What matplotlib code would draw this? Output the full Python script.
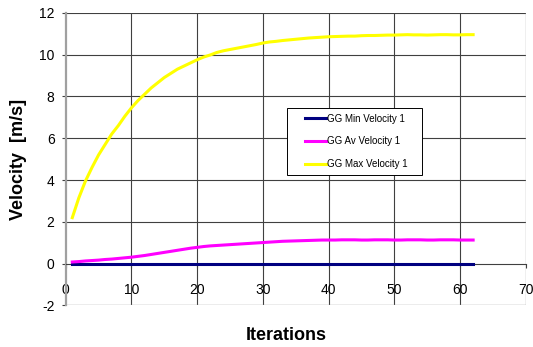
import matplotlib.pyplot as plt
from matplotlib.patches import Rectangle

plt.rcParams['font.family'] = ['Liberation Sans', 'DejaVu Sans']
plt.rcParams['axes.unicode_minus'] = False

iterations = list(range(1, 63))

min_velocity = [0.0, 0.0, 0.0, 0.0, 0.0, 0.0, 0.0, 0.0, 0.0, 0.0,
	0.0, 0.0, 0.0, 0.0, 0.0, 0.0, 0.0, 0.0, 0.0, 0.0,
	0.0, 0.0, 0.0, 0.0, 0.0, 0.0, 0.0, 0.0, 0.0, 0.0,
	0.0, 0.0, 0.0, 0.0, 0.0, 0.0, 0.0, 0.0, 0.0, 0.0,
	0.0, 0.0, 0.0, 0.0, 0.0, 0.0, 0.0, 0.0, 0.0, 0.0,
	0.0, 0.0, 0.0, 0.0, 0.0, 0.0, 0.0, 0.0, 0.0, 0.0,
	0.0, 0.0]

av_velocity = [0.08, 0.10, 0.13, 0.15, 0.17, 0.20, 0.22, 0.25, 0.28, 0.31,
	0.35, 0.39, 0.44, 0.49, 0.54, 0.59, 0.64, 0.69, 0.74, 0.78,
	0.82, 0.85, 0.87, 0.89, 0.91, 0.93, 0.95, 0.97, 0.99, 1.01,
	1.03, 1.05, 1.07, 1.08, 1.09, 1.10, 1.11, 1.12, 1.13, 1.13,
	1.13, 1.14, 1.14, 1.14, 1.13, 1.13, 1.14, 1.14, 1.14, 1.13,
	1.13, 1.14, 1.14, 1.14, 1.13, 1.13, 1.14, 1.14, 1.14, 1.13,
	1.13, 1.13]

max_velocity = [2.20, 3.15, 3.95, 4.60, 5.20, 5.70, 6.20, 6.60, 7.05, 7.45,
	7.80, 8.10, 8.40, 8.65, 8.90, 9.10, 9.30, 9.45, 9.60, 9.75,
	9.88, 9.98, 10.10, 10.18, 10.24, 10.30, 10.36, 10.42, 10.48, 10.55,
	10.60, 10.63, 10.67, 10.70, 10.73, 10.76, 10.79, 10.81, 10.83, 10.85,
	10.86, 10.87, 10.88, 10.88, 10.90, 10.91, 10.91, 10.92, 10.93, 10.93,
	10.94, 10.95, 10.94, 10.94, 10.93, 10.94, 10.95, 10.95, 10.94, 10.94,
	10.95, 10.95]

labels = ['GG Min Velocity 1', 'GG Av Velocity 1', 'GG Max Velocity 1']
colors = ['#000080', '#ff00ff', '#ffff00']

fig = plt.figure(figsize=(5.33, 3.47), dpi=100)
ax = fig.add_axes([0.1233, 0.1196, 0.863, 0.8438])

for series, label, color in zip([min_velocity, av_velocity, max_velocity], labels, colors):
	ax.plot(iterations, series, color=color, linewidth=2.2, label=label, zorder=3)

ax.set_xlim(0, 70)
ax.set_ylim(-2, 12)
ax.set_xticks(range(0, 71, 10))
ax.set_yticks(range(-2, 13, 2))

# excel style grid
for x in range(10, 70, 10):
	ax.axvline(x, color='#404040', linewidth=0.8, zorder=1)
for y in range(2, 13, 2):
	ax.axhline(y, color='#404040', linewidth=0.8, zorder=1)
ax.axhline(-2, color='#a0a0a0', linewidth=1.0, zorder=1)
ax.axvline(70, color='#b0b0b0', linewidth=1.0, zorder=1)

ax.spines['bottom'].set_position(('data', 0))
ax.spines['bottom'].set_color('#404040')
ax.spines['bottom'].set_linewidth(0.8)
ax.spines['left'].set_color('#a0a0a0')
ax.spines['left'].set_linewidth(1.6)
ax.spines['top'].set_visible(False)
ax.spines['right'].set_visible(False)

ax.tick_params(axis='x', direction='out', length=3, color='#404040', labelsize=10, pad=11)
ax.tick_params(axis='y', direction='out', length=3, color='#404040', labelsize=10, pad=5)

ax.set_ylabel('Velocity  [m/s]', fontsize=13, fontweight='bold', labelpad=9)
fig.text(0.5375, 0.032, 'Iterations', fontsize=13, fontweight='bold', ha='center', va='center')

ax.add_patch(Rectangle((0.4817, 0.4448), 0.2922, 0.2282, transform=ax.transAxes,
	facecolor='white', edgecolor='black', linewidth=0.7, zorder=4))
ax.legend(loc='upper left', bbox_to_anchor=(0.52, 0.655), frameon=False, fontsize=7,
	handlelength=2.2, handletextpad=0.1, labelspacing=1.3, borderpad=0, borderaxespad=0).set_zorder(5)

plt.savefig('out.png', dpi=100)
